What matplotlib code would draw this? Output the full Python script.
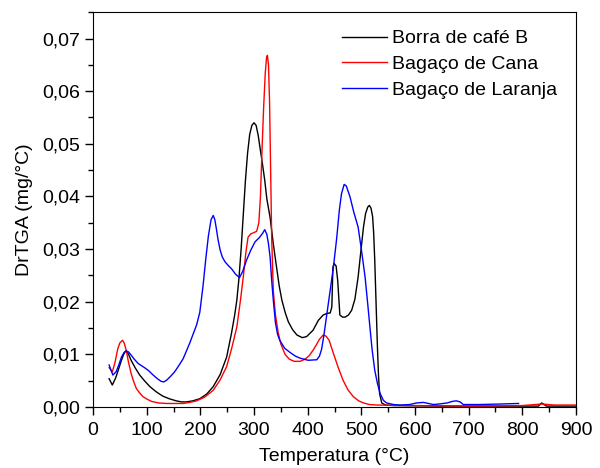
import numpy as np
import matplotlib
matplotlib.use("Agg")
import matplotlib.pyplot as plt
from matplotlib.ticker import MultipleLocator, FuncFormatter

# Dados (temperatura em °C, DrTGA em mg/°C)
temp_cafe = [30, 36, 42, 47, 52, 57, 61, 66, 71, 79, 87, 96, 106, 118, 130, 142, 155, 165, 174, 186,
             199, 212, 224, 237, 249, 258, 264, 268, 272, 276, 280, 284, 288, 292, 296, 300, 304, 308, 311,
             316, 320, 324, 330, 336, 342, 347, 352, 358, 364, 372, 380, 390, 398, 410, 420, 429, 436,
             442, 445, 447, 449, 453, 456, 460, 465, 470, 476, 482, 488, 494, 499, 504, 508, 512, 515,
             518, 521, 523, 525, 528, 530, 532, 534, 538, 545, 560, 650, 750, 830, 836, 845, 900]
drtga_cafe = [0.0054, 0.0042, 0.0055, 0.0070, 0.0086, 0.0100, 0.0107, 0.0101, 0.0089, 0.0074, 0.0061,
              0.0050, 0.0039, 0.0029, 0.0021, 0.0016, 0.0012, 0.0010, 0.0010, 0.0012, 0.0016, 0.0025,
              0.0039, 0.0062, 0.0095, 0.0140, 0.0175, 0.0203, 0.0245, 0.0300, 0.0365, 0.0430, 0.0482,
              0.0518, 0.0535, 0.0540, 0.0535, 0.0515, 0.0494, 0.0460, 0.0431, 0.0395, 0.0360, 0.0310,
              0.0266, 0.0230, 0.0203, 0.0180, 0.0162, 0.0147, 0.0137, 0.0132, 0.0134, 0.0146, 0.0165,
              0.0175, 0.0178, 0.0179, 0.0190, 0.0265, 0.0273, 0.0268, 0.0240, 0.0175, 0.0171, 0.0171,
              0.0175, 0.0184, 0.0205, 0.0247, 0.0295, 0.0342, 0.0368, 0.0380, 0.0383, 0.0378, 0.0362,
              0.0330, 0.0279, 0.0180, 0.0114, 0.0060, 0.0026, 0.0008, 0.0004, 0.0003, 0.0002, 0.0002,
              0.0002, 0.0008, 0.0002, 0.0002]

temp_cana = [30, 36, 41, 46, 50, 55, 58, 62, 66, 71, 76, 81, 87, 93, 101, 109, 122, 137, 152, 168, 180,
             193, 208, 224, 237, 249, 258, 268, 275, 280, 285, 289, 294, 299, 305, 309, 312, 315, 318,
             321, 323.5, 325, 327, 329, 331, 333, 336, 340, 345, 350, 358, 366, 375, 386, 395, 403, 410,
             416, 422, 429, 434, 440, 448, 457, 466, 475, 485, 495, 504, 515, 530, 600, 700, 800, 836,
             860, 900]
drtga_cana = [0.0075, 0.0067, 0.0085, 0.0110, 0.0122, 0.0127, 0.0122, 0.0108, 0.0086, 0.0064, 0.0048,
              0.0035, 0.0027, 0.0020, 0.0015, 0.0011, 0.0008, 0.0007, 0.0007, 0.0007, 0.0009, 0.0012,
              0.0019, 0.0032, 0.0052, 0.0077, 0.0110, 0.0152, 0.0205, 0.0247, 0.0295, 0.0323, 0.0329,
              0.0331, 0.0334, 0.0350, 0.0400, 0.0490, 0.0570, 0.0635, 0.0665, 0.0668, 0.0650, 0.0580,
              0.0450, 0.0320, 0.0220, 0.0175, 0.0142, 0.0120, 0.0100, 0.0091, 0.0087, 0.0087, 0.0091,
              0.0098, 0.0108, 0.0118, 0.0129, 0.0137, 0.0135, 0.0127, 0.0102, 0.0075, 0.0051, 0.0033,
              0.0020, 0.0012, 0.0008, 0.0005, 0.0004, 0.0003, 0.0002, 0.0003, 0.0006, 0.0004, 0.0004]

temp_laranja = [30, 37, 43, 48, 53, 58, 62, 66, 71, 77, 84, 90, 96, 104, 112, 120, 127, 132, 137, 144, 152,
                160, 168, 180, 193, 199, 205, 210, 215, 220, 224, 227, 230, 233, 237, 241, 246, 252, 258,
                266, 273, 279, 286, 294, 302, 310, 316, 320, 324, 327, 330, 333, 336, 340, 344, 348, 357,
                367, 377, 386, 401, 417, 422, 426, 430, 435, 441, 448, 454, 459, 463, 468, 472, 479, 486,
                494, 500, 507, 512, 516, 520, 525, 530, 535, 541, 547, 560, 572, 590, 603, 616, 625, 634,
                645, 660, 670, 677, 684, 690, 700, 720, 760, 793]
drtga_laranja = [0.0080, 0.0061, 0.0067, 0.0080, 0.0095, 0.0104, 0.0107, 0.0105, 0.0099, 0.0091, 0.0083,
                 0.0079, 0.0075, 0.0069, 0.0061, 0.0054, 0.0049, 0.0048, 0.0051, 0.0058, 0.0067, 0.0079,
                 0.0092, 0.0121, 0.0156, 0.0180, 0.0230, 0.0280, 0.0325, 0.0356, 0.0364, 0.0356, 0.0338,
                 0.0318, 0.0298, 0.0285, 0.0276, 0.0269, 0.0263, 0.0252, 0.0246, 0.0258, 0.0279, 0.0298,
                 0.0314, 0.0322, 0.0330, 0.0337, 0.0328, 0.0310, 0.0285, 0.0240, 0.0203, 0.0160, 0.0138,
                 0.0127, 0.0112, 0.0104, 0.0097, 0.0093, 0.0089, 0.0090, 0.0097, 0.0110, 0.0135, 0.0171,
                 0.0215, 0.0266, 0.0320, 0.0374, 0.0405, 0.0423, 0.0420, 0.0399, 0.0370, 0.0342, 0.0300,
                 0.0247, 0.0195, 0.0152, 0.0110, 0.0070, 0.0045, 0.0026, 0.0013, 0.0008, 0.0005, 0.0004,
                 0.0005, 0.0008, 0.0009, 0.0007, 0.0005, 0.0006, 0.0008, 0.0011, 0.0012, 0.0010, 0.0005,
                 0.0005, 0.0005, 0.0006, 0.0007]

plt.rcParams['font.family'] = ['Liberation Sans', 'DejaVu Sans']
plt.rcParams['font.size'] = 14

fig = plt.figure(figsize=(6, 4.68), dpi=100)
ax = fig.add_axes([0.155, 0.13, 0.805, 0.844])

ax.plot(temp_cafe, drtga_cafe, color='black', lw=1, label='Borra de café B')
ax.plot(temp_cana, drtga_cana, color='red', lw=1, label='Bagaço de Cana')
ax.plot(temp_laranja, drtga_laranja, color='blue', lw=1, label='Bagaço de Laranja')

ax.set_xlim(0, 900)
ax.set_ylim(0, 0.075)
ax.xaxis.set_major_locator(MultipleLocator(100))
ax.xaxis.set_minor_locator(MultipleLocator(50))
ax.yaxis.set_major_locator(MultipleLocator(0.01))
ax.yaxis.set_minor_locator(MultipleLocator(0.005))
ax.yaxis.set_major_formatter(FuncFormatter(lambda v, p: f"{v:.2f}".replace('.', ',')))
ax.tick_params(which='major', direction='out', length=6, width=1, top=False, right=False)
ax.tick_params(axis='x', which='major', pad=5)
ax.tick_params(which='minor', direction='out', length=3.5, width=1, top=False, right=False)

ax.set_xlabel('Temperatura (°C)', labelpad=6)
ax.set_ylabel('DrTGA (mg/°C)', labelpad=6)

ax.legend(loc='upper right', frameon=False, handlelength=2.3, handletextpad=0.3,
          labelspacing=0.42, borderaxespad=0.3, bbox_to_anchor=(0.99, 0.99))

fig.savefig('out.png', dpi=100)
